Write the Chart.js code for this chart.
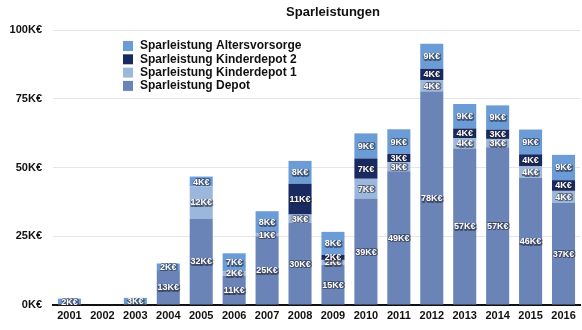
<!DOCTYPE html>
<html>
<head>
<meta charset="utf-8">
<script src="https://cdn.jsdelivr.net/npm/chart.js@4.4.0/dist/chart.umd.min.js"></script>
<style>
  html, body { margin: 0; padding: 0; background: #fff; }
  #wrap { width: 582px; height: 330px; position: relative; }
</style>
</head>
<body>
<div id="wrap"><canvas id="chjs_chart0"></canvas></div>
<script>
// years on the x axis
const years = ["2001","2002","2003","2004","2005","2006","2007","2008","2009","2010","2011","2012","2013","2014","2015","2016"];
// values in K€
const depot   = [0, 0, 0, 12.7, 31.5, 10.6, 25.0, 29.8, 14.6, 38.6, 48.6, 77.6, 56.9, 57.4, 46.2, 37.1];
const kinder1 = [0, 0, 0, 0, 11.6, 1.7, 1.1, 3.1, 1.8, 7.3, 3.4, 4.2, 3.7, 3.0, 4.2, 4.4];
const kinder2 = [0, 0, 0, 0, 0, 0, 0, 11.2, 1.8, 7.4, 2.9, 4.1, 3.6, 3.4, 4.4, 3.9];
const alters  = [2.3, 0, 2.6, 2.4, 3.6, 6.5, 8.0, 8.3, 8.4, 9.1, 9.0, 9.1, 8.9, 8.8, 9.0, 9.2];
const y_ticks = [0, 25, 50, 75, 100];

const FONT = "'Liberation Sans', Arial, sans-serif";

// white value labels inside every segment
const segLabels = {
    id: "segLabels",
    afterDatasetsDraw(chart){
        const ctx = chart.ctx;
        ctx.save();
        ctx.font = "bold 9px " + FONT;
        ctx.textAlign = "center";
        ctx.textBaseline = "middle";
        ctx.lineJoin = "round";
        chart.data.datasets.forEach((ds, di) => {
            const meta = chart.getDatasetMeta(di);
            meta.data.forEach((bar, i) => {
                const v = ds.data[i];
                if (!v) return;
                const y = (bar.y + bar.base) / 2 + 0.5;
                const txt = Math.round(v) + "K€";
                ctx.lineWidth = 2;
                ctx.strokeStyle = "rgba(35,35,50,0.55)";
                ctx.strokeText(txt, bar.x + 0.5, y + 0.5);
                ctx.fillStyle = "#fff";
                ctx.fillText(txt, bar.x, y);
            });
        });
        ctx.restore();
    }
};

// title + legend box drawn over the plot like in the original
const titleLegend = {
    id: "titleLegend",
    afterDraw(chart){
        const ctx = chart.ctx;
        ctx.save();
        ctx.fillStyle = "#111";
        ctx.font = "bold 13px " + FONT;
        ctx.textAlign = "center";
        ctx.textBaseline = "middle";
        ctx.fillText("Sparleistungen", 333, 12);

        ctx.font = "bold 12px " + FONT;
        ctx.textAlign = "left";
        const sets = chart.data.datasets;
        let row = 0;
        for (let i = sets.length - 1; i >= 0; i--){
            const y = 46 + row * 13.3;
            ctx.fillStyle = sets[i].backgroundColor;
            ctx.fillRect(123, y - 5, 10, 10);
            ctx.fillStyle = "#111";
            ctx.fillText(sets[i].label, 140, y);
            row++;
        }
        ctx.restore();
    }
};

new Chart(document.getElementById("chjs_chart0"), {
    type: "bar",
    data: {
        labels: years,
        datasets: [
            { label: "Sparleistung Depot", data: depot, backgroundColor: "#6a84b7" },
            { label: "Sparleistung Kinderdepot 1", data: kinder1, backgroundColor: "#9cb7dc" },
            { label: "Sparleistung Kinderdepot 2", data: kinder2, backgroundColor: "#192a63" },
            { label: "Sparleistung Altersvorsorge", data: alters, backgroundColor: "#6b9cd6" }
        ]
    },
    options: {
        responsive: true,
        maintainAspectRatio: false,
        animation: false,
        datasets: { bar: { barPercentage: 0.7, categoryPercentage: 1.0 } },
        layout: { padding: { top: 30, right: 2, left: 0, bottom: 0 } },
        plugins: {
            legend: { display: false },
            title: { display: false },
            tooltip: { enabled: false }
        },
        scales: {
            x: {
                stacked: true,
                grid: { display: false, drawTicks: false },
                border: { display: true, color: "#111", width: 2 },
                ticks: { color: "#111", font: { family: FONT, size: 11, weight: "bold" }, padding: 4, maxRotation: 0 },
                afterFit(axis){ axis.height = 25; }
            },
            y: {
                stacked: true,
                min: 0,
                max: 100,
                afterBuildTicks(axis){ axis.ticks = y_ticks.map(v => ({ value: v })); },
                grid: { color: "#e6e6e6", lineWidth: 1, drawTicks: false },
                border: { display: false },
                ticks: {
                    color: "#111",
                    font: { family: FONT, size: 11, weight: "bold" },
                    padding: 11,
                    callback: v => v + "K€"
                },
                afterFit(axis){ axis.width = 53; }
            }
        }
    },
    plugins: [segLabels, titleLegend]
});
</script>
</body>
</html>
